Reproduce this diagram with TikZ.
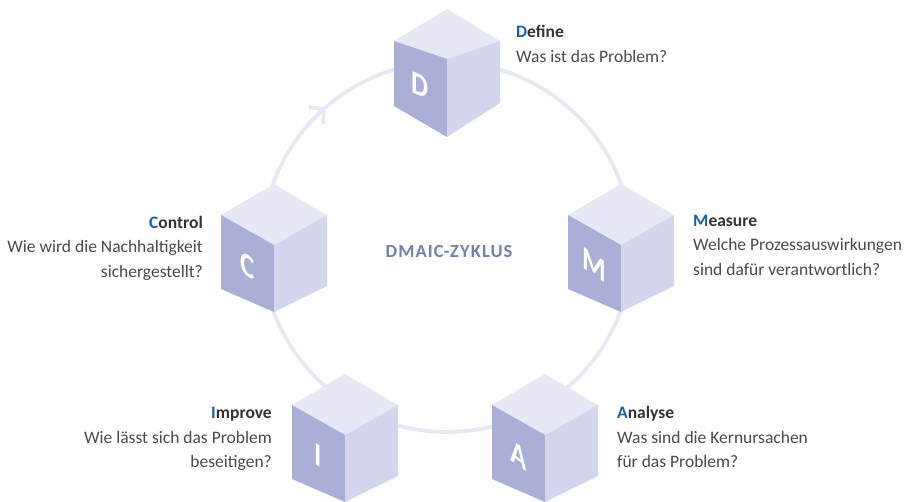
\documentclass[tikz,border=0pt]{standalone}
\usepackage{fontspec}
\setmainfont{Carlito}
\usepackage{xcolor}
\usepackage{tikz}
\usetikzlibrary{arrows.meta}

\definecolor{ringcol}{HTML}{E6E8F4}
\definecolor{topcol}{HTML}{E6E8F5}
\definecolor{leftcol}{HTML}{A9AFD6}
\definecolor{rightcol}{HTML}{D3D6EC}
\definecolor{keycol}{HTML}{1D5FA6}
\definecolor{titlecol}{HTML}{333333}
\definecolor{bodycol}{HTML}{4A4A4A}
\definecolor{cyclecol}{HTML}{6F82B8}

\tikzset{
  pics/cube/.style n args={5}{code={
    % #1 letter, #2 top, #3 side top, #4 left bottom, #5 front bottom
    \fill[topcol] (0,0) -- (-53,#3) -- (0,#2) -- (53,#3) -- cycle;
    \fill[leftcol] (0,0) -- (-53,#3) -- (-53,#4) -- (0,#5) -- cycle;
    \fill[rightcol] (0,0) -- (53,#3) -- (53,#4+3) -- (0,#5) -- cycle;
    \node[letterbox, yslant=-#3/53] (-letter) at (-26.5,{(#3+#4+#5)/4}) {#1};
  }}
}

\begin{document}
\begin{tikzpicture}[
    x=1pt, y=1pt,
    ring/.style={draw=ringcol, line width=3.8pt},
    letterbox/.style={inner sep=0pt, text=white, xscale=0.82, font=\fontsize{33}{33}\selectfont\bfseries},
    label/.style={inner sep=0pt, text=bodycol, font=\fontsize{17.5}{24.5}\selectfont}
]
\useasboundingbox (0,0) rectangle (911,502);

% Ring with arrow
\coordinate (cen) at (447,255);
\draw[ring] (cen) circle[radius=185];
\draw[ring, -{Straight Barb[length=10pt,width=22pt]}] (cen) ++(142:185) arc[start angle=142, end angle=131, radius=185];

\node[font=\fontsize{18.5}{18.5}\selectfont\bfseries\addfontfeature{LetterSpace=6}, text=cyclecol] (zyklus) at (449,250) {DMAIC-ZYKLUS};

% Cubes
\pic (cubeD) at (447,443) {cube={D}{50}{18}{-47}{-78}};
\pic (cubeM) at (621,257) {cube={M}{61}{30}{-44}{-67}};
\pic (cubeA) at (545,67) {cube={A}{61}{30}{-44}{-67}};
\pic (cubeI) at (345,67) {cube={I}{61}{30}{-44}{-67}};
\pic (cubeC) at (274,257) {cube={C}{61}{30}{-44}{-67}};

% Labels
\node[label, anchor=north west, align=left] (define) at (516,476.5)
  {\textbf{\textcolor{keycol}{D}\textcolor{titlecol}{efine}}\\Was ist das Problem?};
\node[label, anchor=north west, align=left] (measure) at (693,287.5)
  {\textbf{\textcolor{keycol}{M}\textcolor{titlecol}{easure}}\\Welche Prozessauswirkungen\\sind dafür verantwortlich?};
\node[label, anchor=north west, align=left] (analyse) at (617,95.5)
  {\textbf{\textcolor{keycol}{A}\textcolor{titlecol}{nalyse}}\\Was sind die Kernursachen\\für das Problem?};
\node[label, anchor=north east, align=right] (improve) at (272,95)
  {\textbf{\textcolor{keycol}{I}\textcolor{titlecol}{mprove}}\\Wie lässt sich das Problem\\beseitigen?};
\node[label, anchor=north east, align=right] (control) at (203,286)
  {\textbf{\textcolor{keycol}{C}\textcolor{titlecol}{ontrol}}\\Wie wird die Nachhaltigkeit\\sichergestellt?};

\end{tikzpicture}
\end{document}
